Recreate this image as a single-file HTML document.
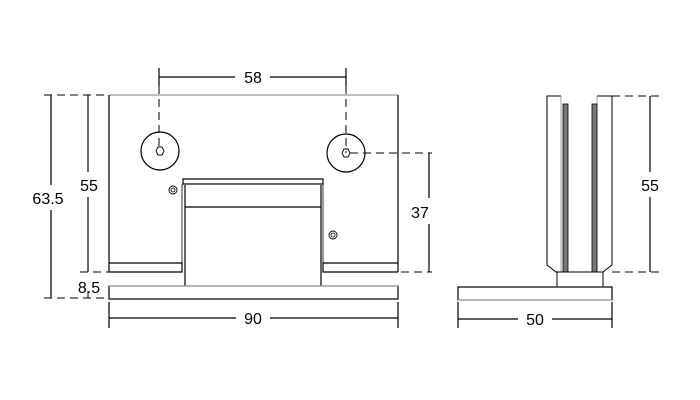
<!DOCTYPE html>
<html><head><meta charset="utf-8"><style>html,body{margin:0;padding:0;background:#fff}svg{display:block}</style></head>
<body>
<svg width="700" height="400" viewBox="0 0 700 400" xmlns="http://www.w3.org/2000/svg" font-family="Liberation Sans, sans-serif" font-size="16" fill="none" stroke="#000" stroke-width="1.2">
<!-- front view -->
<line x1="109" y1="95" x2="398" y2="95" stroke="#aaa" stroke-width="1.5"/>
<line x1="109" y1="95" x2="109" y2="272"/>
<line x1="398" y1="95" x2="398" y2="272"/>
<polyline points="109,263 182,263 182,272 109,272"/>
<polyline points="398,263 323,263 323,272 398,272"/>
<rect x="183" y="179" width="140" height="5"/>
<line x1="185" y1="185" x2="185" y2="286"/>
<line x1="321" y1="185" x2="321" y2="286"/>
<line x1="185" y1="207" x2="321" y2="207"/>
<line x1="182" y1="184" x2="182" y2="272" stroke-width="0.8"/>
<line x1="323" y1="184" x2="323" y2="272" stroke-width="0.8"/>
<rect x="109" y="286" width="289" height="13"/>
<line x1="109" y1="286" x2="398" y2="286" stroke="#aaa"/>
<circle cx="160" cy="151" r="19"/>
<circle cx="346" cy="153" r="19"/>
<polygon points="156,151 158,147 162,147 164,151 162,155 158,155" stroke-width="0.9"/>
<polygon points="342,153 344,149 348,149 350,153 348,157 344,157" stroke-width="0.9"/>
<circle cx="173" cy="190" r="4" stroke-width="0.9"/><circle cx="173" cy="190" r="2" stroke-width="0.8"/>
<circle cx="333" cy="235" r="4" stroke-width="0.9"/><circle cx="333" cy="235" r="2" stroke-width="0.8"/>
<!-- dims front -->
<g stroke-dasharray="8,5" stroke-width="1">
<line x1="159" y1="86" x2="159" y2="151"/>
<line x1="346" y1="86" x2="346" y2="153"/>
<line x1="44" y1="95" x2="109" y2="95"/>
<line x1="80" y1="272" x2="109" y2="272"/>
<line x1="44" y1="298" x2="109" y2="298"/>
<line x1="350" y1="153" x2="432" y2="153"/>
<line x1="323" y1="272" x2="432" y2="272"/>
</g>
<line x1="159" y1="68" x2="159" y2="86"/><line x1="346" y1="68" x2="346" y2="86"/>
<line x1="159" y1="77" x2="235" y2="77"/><line x1="270" y1="77" x2="346" y2="77"/>
<text x="253" y="83" fill="#000" stroke="none" text-anchor="middle">58</text>
<line x1="51" y1="95" x2="51" y2="185"/><line x1="51" y1="210" x2="51" y2="298"/>
<text x="48" y="204" fill="#000" stroke="none" text-anchor="middle">63.5</text>
<line x1="88" y1="95" x2="88" y2="172"/><line x1="88" y1="197" x2="88" y2="272"/>
<text x="89" y="191" fill="#000" stroke="none" text-anchor="middle">55</text>
<line x1="88" y1="291" x2="88" y2="298" stroke-width="1"/>
<text x="89" y="293" fill="#000" stroke="none" text-anchor="middle">8.5</text>
<line x1="429" y1="153" x2="429" y2="198"/><line x1="429" y1="224" x2="429" y2="272"/>
<text x="420" y="218" fill="#000" stroke="none" text-anchor="middle">37</text>
<line x1="109" y1="302" x2="109" y2="328"/><line x1="398" y1="302" x2="398" y2="328"/>
<line x1="109" y1="318" x2="236" y2="318"/><line x1="270" y1="318" x2="398" y2="318"/>
<text x="253" y="324" fill="#000" stroke="none" text-anchor="middle">90</text>
<!-- side view -->
<polyline points="561,96 547,96 547,265 556,272 603,272 612,265 612,96 597,96" stroke-width="1"/>
<line x1="561" y1="96" x2="561" y2="272" stroke="#888" stroke-width="0.8"/>
<line x1="597" y1="96" x2="597" y2="272" stroke="#888" stroke-width="0.8"/>
<rect x="563" y="104" width="5" height="168" fill="#777" stroke="#000" stroke-width="0.8"/>
<rect x="592" y="104" width="5" height="168" fill="#777" stroke="#000" stroke-width="0.8"/>
<rect x="557" y="272" width="46" height="15" stroke-width="1"/>
<rect x="458" y="287" width="154" height="13"/>
<line x1="458" y1="300" x2="612" y2="300" stroke="#aaa"/>
<g stroke-dasharray="8,5" stroke-width="1">
<line x1="612" y1="96" x2="660" y2="96"/>
<line x1="612" y1="272" x2="660" y2="272"/>
</g>
<line x1="650" y1="96" x2="650" y2="172"/><line x1="650" y1="197" x2="650" y2="272"/>
<text x="650" y="191" fill="#000" stroke="none" text-anchor="middle">55</text>
<line x1="458" y1="302" x2="458" y2="328"/><line x1="612" y1="302" x2="612" y2="328"/>
<line x1="458" y1="319" x2="518" y2="319"/><line x1="552" y1="319" x2="612" y2="319"/>
<text x="535" y="325" fill="#000" stroke="none" text-anchor="middle">50</text>
</svg>
</body></html>
